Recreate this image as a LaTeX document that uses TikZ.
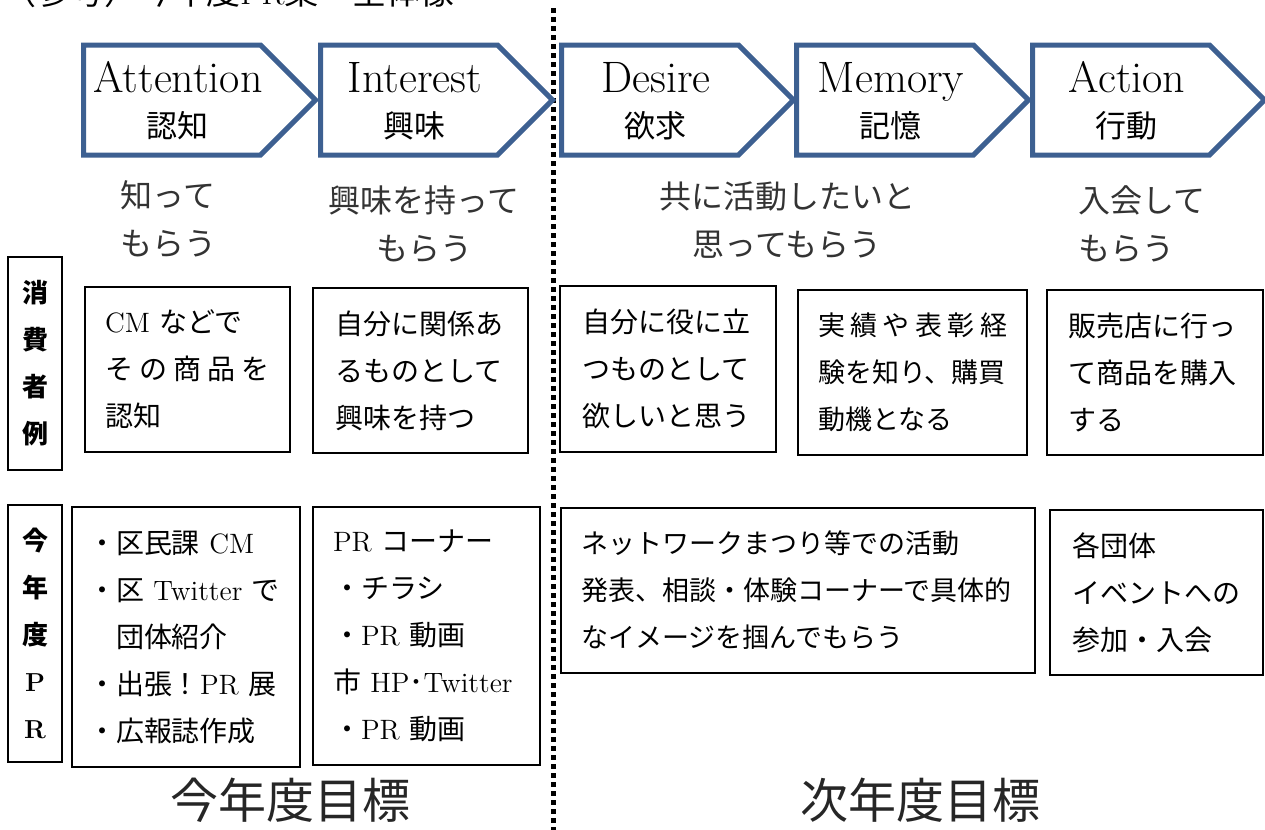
\documentclass[tikz,border=0pt]{standalone}
\usepackage{fontspec}
\usepackage{tikz}
\usetikzlibrary{shapes.symbols}
\newfontfamily\jp{Noto Sans CJK JP}
\definecolor{stageblue}{RGB}{61,96,145}
\newcommand{\stagearrow}[4]{
    \node[stagebox] (#1) at (#2,100) {};
    \node[stageen] (#1-en) at ([xshift=3pt,yshift=4pt]#1.center) {#3};
    \node[stagejp] (#1-jp) at ([xshift=2.5pt,yshift=-13pt]#1.center) {#4};
}

\begin{document}
\begin{tikzpicture}[x=0.5pt,y=-0.5pt,
    stagebox/.style={signal,signal to=east,signal pointer angle=90,draw=stageblue,line width=2.5pt,minimum width=116pt,minimum height=55pt,inner sep=0pt},
    stageen/.style={font=\fontsize{22}{24}\selectfont,inner sep=0pt,anchor=base},
    stagejp/.style={font=\jp\fontsize{15.5}{18}\selectfont,inner sep=0pt},
    goal/.style={font=\jp\fontsize{16}{24}\selectfont,text=black!80,inner sep=0pt},
    rowlab/.style={draw,line width=1.2pt,minimum width=27pt,align=center,font=\jp\bfseries\fontsize{13}{23.5}\selectfont},
    textbox/.style={draw,line width=1pt,align=left,inner ysep=0pt,font=\jp\fontsize{14}{23.5}\selectfont},
    target/.style={font=\jp\fontsize{24}{26}\selectfont,text=black!85,inner sep=0pt},
    sepline/.style={line width=2.5pt,dash pattern=on 2.5pt off 2pt}]
    \useasboundingbox (0,0) rectangle (1265,830);

    \node[anchor=west,font=\jp\fontsize{17}{20}\selectfont] (title) at (-5,-8) {（参考）今年度{\rmfamily PR}案　全体像};

    \coordinate (septop) at (553,8);
    \coordinate (sepbot) at (553,830);
    \draw[sepline] (septop) -- (sepbot);

    \stagearrow{att}{172}{Attention}{認知}
    \stagearrow{int}{409}{Interest}{興味}
    \stagearrow{des}{650}{Desire}{欲求}
    \stagearrow{mem}{885}{Memory}{記憶}
    \stagearrow{act}{1121}{Action}{行動}

    \node[goal,align=center] (g-att) at (168,219) {知って\\もらう};
    \node[goal,align=center] (g-int) at (424,224) {興味を持って\\もらう};
    \node[goal,align=center] (g-des) at (787,220) {共に活動したいと\\思ってもらう};
    \node[goal,align=left,anchor=west] (g-act) at (1078,224) {入会して\\もらう};

    \node[rowlab,minimum height=106.5pt] (r-cons) at (35,363.5) {消\\費\\者\\例};
    \node[rowlab,minimum height=128.5pt] (r-pr) at (35,633.5) {今\\年\\度\\{\rmfamily P}\\{\rmfamily R}};

    \node[textbox,inner xsep=10pt,text width=82.5pt,minimum height=82.5pt] (c-att) at (187.5,369.5) {{\rmfamily CM} などで\\そ\hfill の\hfill 商\hfill 品\hfill を\\認知};
    \node[textbox,inner xsep=11pt,text width=85.5pt,minimum height=82.5pt] (c-int) at (420.5,370.5) {自分に関係あ\\るものとして\\興味を持つ};
    \node[textbox,inner xsep=11pt,text width=86pt,minimum height=83pt] (c-des) at (668,369) {自分に役に立\\つものとして\\欲しいと思う};
    \node[textbox,inner xsep=10pt,text width=94.5pt,minimum height=82.5pt,font=\jp\fontsize{13.5}{23.5}\selectfont] (c-mem) at (912.5,372.5) {実\hfill 績\hfill や\hfill 表\hfill 彰\hfill 経\\験を知り、購買\\動機となる};
    \node[textbox,inner xsep=10.5pt,text width=87pt,minimum height=82.5pt] (c-act) at (1155,372.5) {販売店に行っ\\て商品を購入\\する};

    \node[textbox,inner xsep=8pt,text width=98pt,minimum height=130pt] (p-att) at (186,637) {・区民課 {\rmfamily CM}\\・区 {\rmfamily Twitter} で\\　団体紹介\\・出張！{\rmfamily PR} 展\\・広報誌作成};
    \node[textbox,inner xsep=10pt,text width=93.5pt,minimum height=129pt] (p-int) at (426.5,636) {{\rmfamily PR} コーナー\\・チラシ\\・{\rmfamily PR} 動画\\市 {\rmfamily HP}･{\rmfamily Twitter}\\・{\rmfamily PR} 動画};
    \node[textbox,inner xsep=10pt,text width=217pt,minimum height=82.5pt,font=\jp\fontsize{13.5}{23.5}\selectfont] (p-des) at (798,590.5) {ネットワークまつり等での活動\\発表、相談・体験コーナーで具体的\\なイメージを掴んでもらう};
    \node[textbox,inner xsep=11pt,text width=84.5pt,minimum height=82.5pt] (p-act) at (1156.5,592.5) {各団体\\イベントへの\\参加・入会};

    \node[target] (now) at (290,800) {今年度目標};
    \node[target] (next) at (920,800) {次年度目標};
\end{tikzpicture}
\end{document}
